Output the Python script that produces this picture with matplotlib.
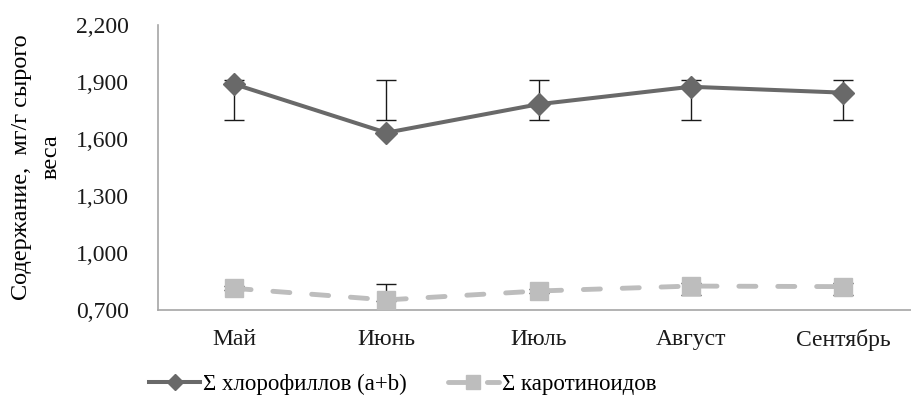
import matplotlib
matplotlib.use("Agg")
import matplotlib.pyplot as plt

months = ["Май", "Июнь", "Июль", "Август", "Сентябрь"]

chl = [1.889, 1.633, 1.783, 1.875, 1.844]
chl_lo = [1.70, 1.70, 1.70, 1.70, 1.70]
chl_hi = [1.91, 1.91, 1.91, 1.91, 1.91]

car = [0.814, 0.753, 0.800, 0.826, 0.823]
car_lo = [0.805, 0.745, 0.790, 0.779, 0.779]
car_hi = [0.825, 0.837, 0.810, 0.840, 0.840]

yticks = [0.7, 1.0, 1.3, 1.6, 1.9, 2.2]
ytick_labels = ["0,700", "1,000", "1,300", "1,600", "1,900", "2,200"]

plt.rcParams["font.family"] = ["Liberation Serif", "DejaVu Serif"]

W, H = 911, 408
fig = plt.figure(figsize=(W / 100, H / 100), dpi=100)
ax = fig.add_axes([158 / W, 1 - 310 / H, (919 - 158) / W, 285 / H])

x = list(range(len(months)))
dark = "#696969"
light = "#bdbdbd"


def bars(lo, hi, color):
    mid = [(a + b) / 2 for a, b in zip(lo, hi)]
    err = [(b - a) / 2 for a, b in zip(lo, hi)]
    ax.errorbar(x, mid, yerr=err, fmt="none", ecolor=color, elinewidth=1.0,
                capsize=7.5, capthick=1.0, zorder=2)


bars(chl_lo, chl_hi, "#1a1a1a")
bars(car_lo, car_hi, "#1a1a1a")

ax.plot(x, chl, color=dark, lw=2.9, marker="D", ms=11, mfc=dark, mec=dark,
        zorder=3, label="Σ хлорофиллов (a+b)")
ax.plot(x, car, color=light, lw=3.5, ls=(0, (3.5, 4.5)), dash_capstyle="round",
        marker="s", ms=13, mfc=light, mec=light, zorder=3,
        label="Σ каротиноидов")

ax.set_xlim(-0.5, len(months) - 0.5)
ax.set_ylim(0.7, 2.2)
ax.set_yticks(yticks)
ax.set_yticklabels(ytick_labels)
ax.set_xticks(x)
ax.set_xticklabels(months)
ax.tick_params(axis="both", length=0, labelsize=17, colors="#1a1a1a")
ax.tick_params(axis="y", pad=21)
ax.tick_params(axis="x", pad=14)

for s in ["top", "right"]:
    ax.spines[s].set_visible(False)
for s in ["left", "bottom"]:
    ax.spines[s].set_color("#a6a6a6")
    ax.spines[s].set_linewidth(1.2)

fig.text(22 / W, 1 - 167 / H, "Содержание,  мг/г сырого", rotation=90,
         ha="center", va="center", fontsize=17.5)
fig.text(51 / W, 1 - 157 / H, "веса", rotation=90,
         ha="center", va="center", fontsize=17.5)

fig.legend(loc="center", bbox_to_anchor=(403 / W, 1 - 384 / H), ncol=2,
           frameon=False, fontsize=16.5, handlelength=2.2, columnspacing=1.8,
           handletextpad=0.15, markerscale=0.75)

fig.savefig("out.png", dpi=100)
